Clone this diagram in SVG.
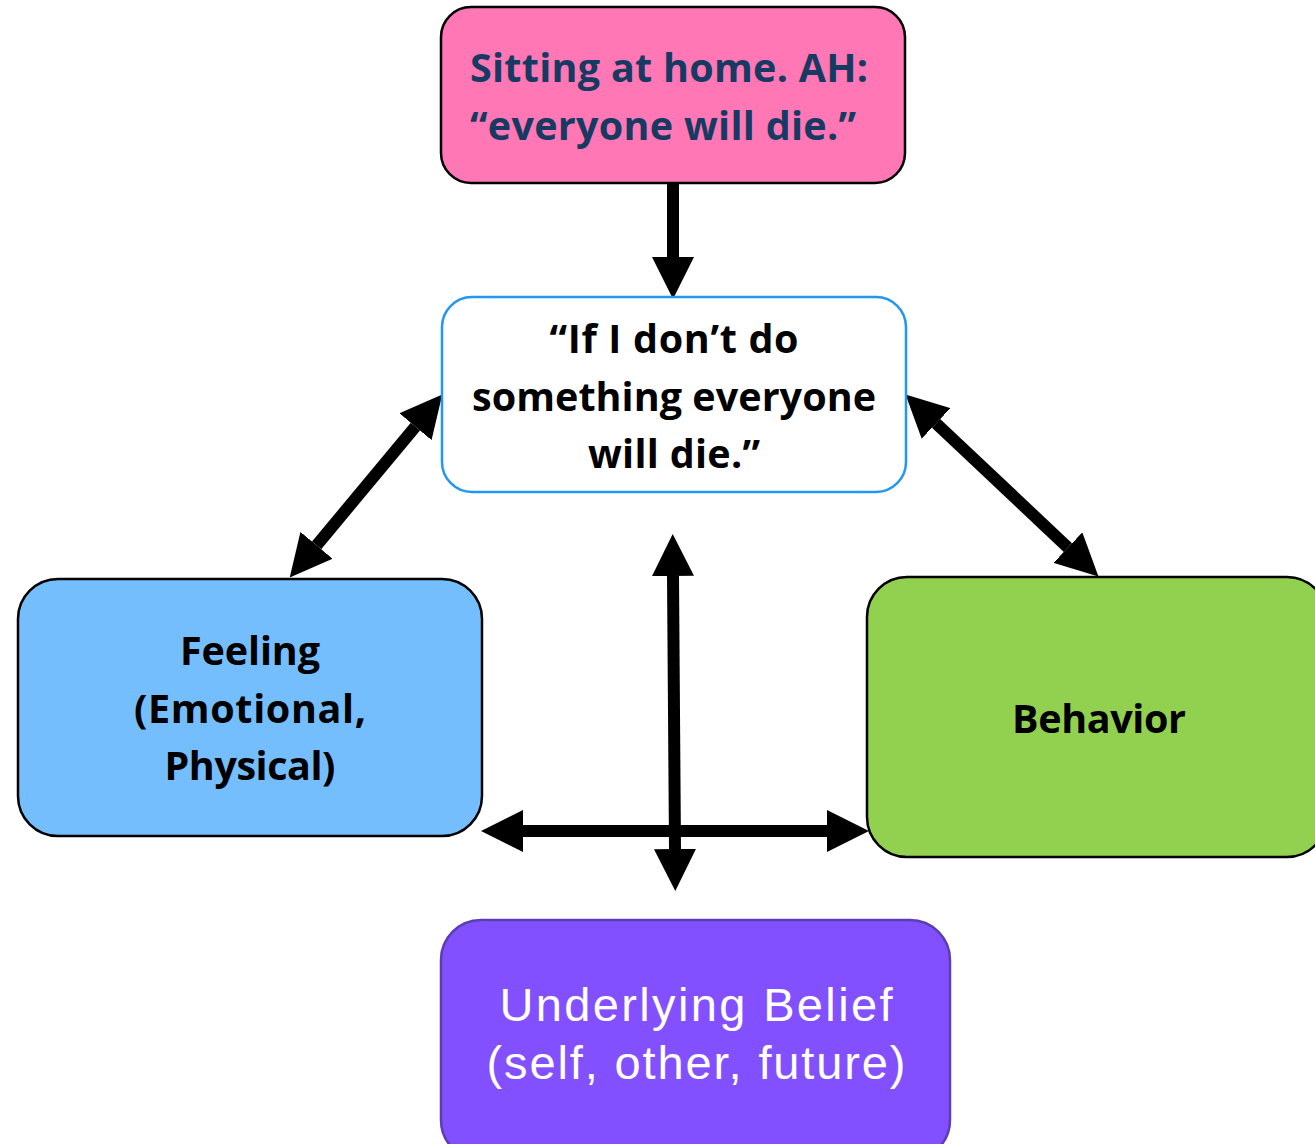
<svg xmlns="http://www.w3.org/2000/svg" width="1315" height="1144" viewBox="0 0 1315 1144">
<style>
.b{font-family:"Open Sans","Noto Sans",sans-serif;font-weight:bold;text-anchor:middle;font-size:39.5px}
.w{font-family:"Liberation Sans",Arial,sans-serif;text-anchor:middle;fill:#ffffff;font-size:47px}
.c{fill:none;stroke:#000;stroke-width:12}
</style>
<defs>
<marker id="ah" markerUnits="userSpaceOnUse" markerWidth="42" markerHeight="42" viewBox="0 0 40 40" refX="0" refY="20" orient="auto-start-reverse">
<path d="M0,0 L40,20 L0,40 z" fill="#000"/>
</marker>
</defs>
<rect width="1315" height="1144" fill="#fff"/>
<g id="connectors">
<line class="c" x1="673" y1="183" x2="673" y2="257" marker-end="url(#ah)"/>
<line class="c" x1="415.4" y1="426.7" x2="316.6" y2="545.3" marker-start="url(#ah)" marker-end="url(#ah)"/>
<line class="c" x1="936.1" y1="423.4" x2="1067.9" y2="547.6" marker-start="url(#ah)" marker-end="url(#ah)"/>
<line class="c" x1="673" y1="576" x2="675" y2="849" marker-start="url(#ah)" marker-end="url(#ah)"/>
<line class="c" x1="523" y1="831" x2="827" y2="831" marker-start="url(#ah)" marker-end="url(#ah)"/>
</g>
<g id="situation">
<rect x="441" y="7" width="464" height="176" rx="30" fill="#FF77B4" stroke="#000" stroke-width="2.5"/>
<text class="b" x="669" y="82" fill="#173A63" textLength="398">Sitting at home. AH:</text>
<text class="b" x="663" y="140" fill="#173A63" textLength="386">“everyone will die.”</text>
</g>
<g id="thought">
<rect x="442" y="297" width="464" height="195" rx="30" fill="#fff" stroke="#2196F3" stroke-width="2.5"/>
<text class="b" x="674" y="353" fill="#000" textLength="249">“If I don’t do</text>
<text class="b" x="674" y="411" fill="#000" textLength="404">something everyone</text>
<text class="b" x="674" y="468" fill="#000" textLength="172">will die.”</text>
</g>
<g id="feeling">
<rect x="18" y="579" width="464" height="257" rx="40" fill="#75BEFD" stroke="#000" stroke-width="2.5"/>
<text class="b" x="250" y="665" fill="#000" textLength="140">Feeling</text>
<text class="b" x="250" y="723" fill="#000" textLength="232">(Emotional,</text>
<text class="b" x="250" y="780" fill="#000" textLength="171">Physical)</text>
</g>
<g id="behavior">
<rect x="867" y="577" width="460" height="280" rx="40" fill="#92D050" stroke="#000" stroke-width="2.5"/>
<text class="b" x="1099" y="733" fill="#000" textLength="174">Behavior</text>
</g>
<g id="belief">
<rect x="441" y="920" width="509" height="240" rx="40" fill="#8350FF" stroke="#5B3DB5" stroke-width="2.5"/>
<text class="w" x="696" y="1021" textLength="393">Underlying Belief</text>
<text class="w" x="696" y="1079" textLength="419">(self, other, future)</text>
</g>
</svg>
